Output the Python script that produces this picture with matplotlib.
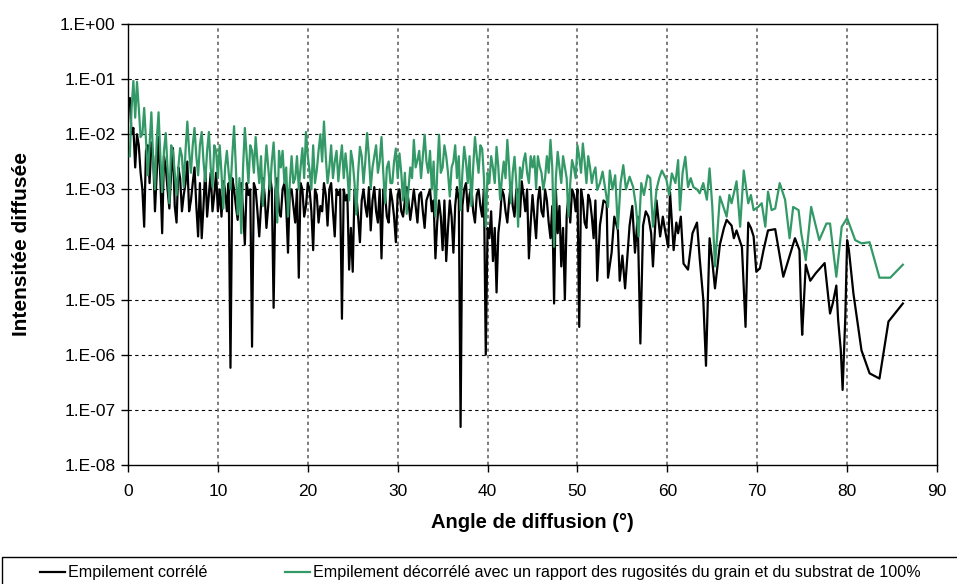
import numpy as np
import matplotlib
matplotlib.use("Agg")
import matplotlib.pyplot as plt
from matplotlib.ticker import FixedLocator, FuncFormatter, NullLocator

plt.rcParams['font.family'] = ['Liberation Sans', 'DejaVu Sans']

# angles read every 0.2 deg up to 52.2 deg (two interleaved grids), then point by point
dense_angle = np.round(np.arange(0.2, 52.3, 0.4), 1)
mid_angle = np.round(np.arange(0.4, 52.05, 0.4), 1)

black_dense = [
    4.5e-2, 1.3e-2, 1.0e-2, 2.0e-3, 2.1e-4, 6.3e-3, 7.1e-3, 4.0e-4, 8.9e-3, 1.6e-4,
    2.5e-3, 4.5e-4, 5.6e-3, 2.5e-4, 1.6e-3, 7.9e-4, 3.2e-3, 6.3e-4, 2.5e-3, 1.4e-4,
    1.3e-4, 2.5e-3, 7.9e-4, 4.0e-4, 2.0e-3,
    1.0e-3, 1.4e-3, 4.0e-4, 5.8e-7, 1.0e-3, 2.8e-4, 1.3e-3, 1.0e-4, 7.9e-4, 1.4e-6,
    1.0e-3, 1.4e-4, 1.6e-3, 2.0e-4, 1.8e-3, 7.1e-6, 1.6e-3, 3.2e-4, 1.3e-3, 7.1e-5,
    1.0e-3, 2.5e-4, 2.5e-5, 1.0e-3, 5.0e-4,
    1.0e-3, 7.9e-5, 7.9e-4, 5.0e-4, 1.3e-3, 2.2e-4, 1.3e-3, 1.4e-4, 7.9e-4, 4.5e-6,
    6.3e-4, 3.5e-5, 3.2e-5, 7.9e-4, 1.1e-4, 1.0e-3, 3.2e-4, 1.8e-4, 1.1e-3, 2.5e-4,
    5.6e-5, 7.9e-4, 2.5e-4, 6.3e-4, 1.1e-4,
    1.0e-3, 3.2e-4, 1.1e-3, 2.8e-4, 1.0e-3, 2.5e-4, 8.9e-4, 2.0e-4, 7.9e-4, 4.0e-4,
    5.6e-5, 6.3e-4, 7.9e-5, 5.0e-5, 6.3e-4, 7.1e-5, 1.1e-3, 4.9e-8, 1.0e-3, 4.0e-4,
    1.1e-3, 2.5e-4, 1.0e-3, 3.2e-4, 1.0e-6,
    1.3e-4, 5.0e-5, 1.35e-5, 3.2e-4, 7.9e-4, 2.5e-4, 1.3e-3, 3.2e-4, 1.0e-3, 1.4e-3,
    4.0e-4, 5.6e-5, 7.9e-4, 1.3e-4, 1.1e-3, 3.2e-4, 6.3e-4, 1.3e-4, 8.5e-6, 1.6e-4,
    4.0e-5, 1.0e-5, 7.9e-4, 1.0e-3, 4.0e-4,
    3.2e-6, 6.3e-4, 2.0e-4, 6.3e-4, 1.3e-4, 2.2e-5,
]
black_mid = [
    1.0e-2, 2.5e-3, 6.3e-3, 1.0e-3, 5.0e-3, 1.3e-3, 4.0e-3, 2.0e-3, 1.6e-3, 4.0e-3,
    1.0e-3, 2.0e-3, 5.0e-4, 2.5e-3, 4.0e-4, 1.3e-3, 4.0e-4, 1.3e-3, 5.0e-4, 1.3e-3,
    5.0e-4, 3.2e-4, 2.0e-3, 8.0e-4, 4.0e-4,
    3.2e-4, 1.0e-3, 1.3e-3, 1.6e-3, 5.0e-4, 1.0e-3, 4.0e-4, 1.3e-3, 1.0e-3, 1.3e-3,
    4.0e-4, 5.0e-4, 8.0e-4, 5.0e-4, 1.0e-3, 1.0e-3, 4.0e-4, 1.0e-3, 5.0e-4, 1.0e-3,
    5.0e-4, 1.0e-3, 1.3e-3, 3.2e-4, 1.3e-3,
    4.0e-4, 1.0e-3, 2.5e-4, 4.0e-4, 8.0e-4, 1.0e-3, 4.0e-4, 1.0e-3, 1.0e-3, 1.0e-3,
    8.0e-4, 2.0e-4, 1.0e-3, 3.2e-4, 6.3e-4, 5.0e-4, 1.1e-3, 6.3e-4, 4.0e-4, 1.0e-3,
    1.0e-3, 3.2e-4, 1.0e-3, 3.2e-4, 8.0e-4,
    4.0e-4, 6.3e-4, 6.3e-4, 5.0e-4, 5.0e-4, 8.0e-4, 4.0e-4, 6.3e-4, 1.0e-3, 6.3e-4,
    2.5e-4, 3.2e-4, 6.3e-4, 2.0e-4, 3.2e-4, 5.0e-4, 6.3e-4, 5.0e-4, 1.3e-3, 8.0e-4,
    4.0e-4, 8.0e-4, 5.0e-4, 1.0e-3, 2.0e-4,
    4.0e-4, 2.0e-4, 1.6e-4, 1.0e-3, 4.0e-4, 6.3e-4, 5.0e-4, 1.0e-3, 3.2e-4, 8.0e-4,
    1.0e-3, 2.5e-4, 3.2e-4, 6.3e-4, 4.0e-4, 1.0e-3, 2.5e-4, 5.0e-4, 1.0e-3, 5.0e-4,
    2.0e-4, 3.2e-4, 2.5e-4, 8.0e-4, 1.0e-3,
    1.0e-3, 2.5e-4, 8.0e-4, 3.2e-4, 6.3e-4,
]

black_tail_angle = [
    52.5, 52.9, 53.25, 53.4, 53.8, 54.1, 54.5, 54.7, 55.0, 55.3, 55.8, 56.1, 56.4, 56.7,
    57.0, 57.3, 57.6, 57.9, 58.2, 58.4, 58.8, 59.2, 59.5, 59.7, 60.1, 60.3, 60.7, 61.0,
    61.2, 61.5, 61.8, 62.3, 62.8, 63.3, 63.6, 64.0, 64.3, 64.7, 65.0, 65.3, 65.85, 66.3,
    66.6, 67.15, 67.4, 67.7, 68.3, 68.7, 69.0, 69.3, 69.6, 69.9, 70.3, 70.7, 71.2, 72.0,
    72.9, 74.2, 74.7, 74.9, 75.0, 75.4, 75.9, 76.5, 77.5, 78.1, 78.4, 78.8, 79.0, 79.3,
    79.5, 79.8, 80.0, 80.2, 80.7, 81.6, 82.5, 83.6, 84.6, 86.2,
]
black_tail = [
    2.2e-4, 6.3e-4, 5.6e-4, 2.5e-5, 7.1e-5, 3.2e-4, 1.8e-4, 2.2e-5, 6.3e-5, 1.6e-5,
    2.2e-4, 5.0e-4, 7.1e-5, 3.2e-4, 1.6e-6, 2.2e-4, 4.0e-4, 3.2e-4, 1.6e-4, 4.0e-5,
    6.3e-4, 1.4e-4, 3.2e-4, 2.0e-4, 8.9e-5, 8.9e-4, 7.9e-5, 2.5e-4, 1.6e-4, 3.2e-4,
    4.5e-5, 3.5e-5, 1.6e-4, 2.5e-4, 5.6e-5, 1.0e-5, 6.3e-7, 1.3e-4, 5.0e-5, 1.6e-5,
    1.0e-4, 2.0e-4, 2.8e-4, 2.2e-4, 1.3e-4, 1.8e-4, 8.9e-5, 3.2e-6, 2.5e-4, 2.0e-4,
    1.4e-4, 3.2e-5, 3.7e-5, 7.9e-5, 1.8e-4, 1.9e-4, 2.6e-5, 1.3e-4, 7.9e-5, 5.6e-6,
    2.3e-6, 4.3e-5, 2.2e-5, 3.0e-5, 4.6e-5, 5.6e-6, 8.5e-6, 1.8e-5, 4.3e-6, 1.2e-6,
    2.3e-7, 4.9e-6, 1.2e-4, 7.9e-5, 1.3e-5, 1.2e-6, 4.6e-7, 3.7e-7, 4.0e-6, 8.5e-6,
]

green_dense = [
    4.0e-3, 9.3e-2, 8.9e-2, 8.9e-3, 3.0e-2, 1.8e-3, 2.5e-2, 1.0e-3, 2.5e-2, 8.9e-4,
    1.05e-2, 5.6e-4, 5.0e-3, 7.9e-4, 5.6e-3, 1.1e-3, 1.7e-2, 2.0e-3, 1.3e-2, 1.8e-3,
    1.1e-2, 1.4e-3, 1.1e-2, 1.1e-3, 5.0e-3,
    6.3e-3, 4.5e-4, 5.0e-3, 1.0e-3, 1.4e-2, 3.5e-4, 1.6e-4, 1.3e-2, 1.3e-3, 5.0e-3,
    8.9e-3, 1.3e-3, 5.0e-4, 6.3e-3, 1.0e-3, 7.1e-3, 2.5e-4, 2.5e-3, 1.3e-3, 3.2e-4,
    4.0e-3, 1.6e-3, 1.0e-3, 5.6e-3, 1.1e-2,
    2.2e-3, 6.3e-3, 2.2e-3, 1.0e-2, 1.7e-2, 1.3e-3, 6.3e-3, 3.2e-3, 1.4e-3, 6.3e-3,
    4.5e-3, 6.3e-4, 3.2e-3, 3.5e-4, 5.9e-3, 1.3e-3, 1.05e-2, 1.05e-3, 4.0e-3, 2.0e-3,
    8.9e-3, 5.6e-4, 3.2e-3, 1.3e-3, 5.5e-3,
    4.5e-3, 6.3e-4, 3.6e-4, 2.5e-3, 7.9e-3, 3.4e-3, 1.6e-3, 9.8e-3, 2.0e-3, 1.0e-3,
    3.2e-4, 9.8e-3, 2.5e-3, 4.0e-3, 7.4e-4, 3.2e-3, 1.6e-3, 4.2e-4, 5.9e-3, 1.3e-3,
    5.0e-4, 8.9e-3, 2.0e-3, 5.5e-3, 2.1e-4,
    1.3e-3, 2.5e-3, 5.9e-3, 6.5e-4, 3.2e-3, 7.9e-3, 5.6e-4, 3.9e-3, 2.1e-4, 1.6e-3,
    4.5e-3, 1.3e-3, 2.5e-3, 1.05e-3, 2.6e-3, 1.0e-3, 4.0e-3, 7.9e-3, 9.1e-5, 4.8e-3,
    1.3e-3, 2.5e-3, 3.2e-4, 3.4e-3, 1.6e-3,
    3.9e-3, 6.8e-3, 1.3e-3, 2.5e-3, 2.0e-3, 9.8e-4,
]
green_mid = [
    3.0e-2, 2.0e-2, 3.0e-2, 1.0e-2, 8.0e-3, 6.3e-3, 3.2e-3, 8.0e-3, 4.0e-3, 5.0e-3,
    2.5e-3, 6.3e-3, 2.0e-3, 2.5e-3, 4.0e-3, 5.0e-3, 5.0e-3, 6.3e-3, 4.0e-3, 6.3e-3,
    3.2e-3, 5.0e-3, 2.5e-3, 6.3e-3, 1.6e-3,
    2.0e-3, 2.5e-3, 2.0e-3, 4.0e-3, 2.5e-3, 1.6e-3, 2.5e-3, 4.0e-3, 6.3e-3, 2.0e-3,
    3.2e-3, 4.0e-3, 2.0e-3, 2.5e-3, 3.2e-3, 1.6e-3, 5.0e-3, 5.0e-3, 2.5e-3, 1.3e-3,
    1.3e-3, 4.0e-3, 2.5e-3, 1.6e-3, 4.0e-3,
    1.0e-3, 1.3e-3, 5.0e-3, 3.2e-3, 4.0e-3, 2.5e-3, 1.6e-3, 5.0e-3, 3.2e-3, 1.6e-3,
    2.0e-3, 5.0e-3, 1.3e-3, 2.0e-3, 4.0e-3, 3.2e-3, 4.0e-3, 2.5e-3, 6.3e-3, 3.2e-3,
    2.0e-3, 2.5e-3, 1.3e-3, 3.2e-3, 1.6e-3,
    2.0e-3, 2.0e-3, 1.0e-3, 1.6e-3, 2.5e-3, 5.0e-3, 4.0e-3, 3.2e-3, 5.0e-3, 3.2e-3,
    2.0e-3, 2.0e-3, 6.3e-3, 2.0e-3, 2.5e-3, 6.3e-3, 4.0e-3, 2.0e-3, 3.2e-3, 4.0e-3,
    2.5e-3, 4.0e-3, 6.3e-3, 1.6e-3, 2.0e-3,
    4.0e-3, 1.3e-3, 2.5e-3, 1.6e-3, 1.6e-3, 2.5e-3, 2.0e-3, 1.3e-3, 2.5e-3, 3.2e-3,
    2.0e-3, 4.0e-3, 4.0e-3, 4.0e-3, 2.0e-3, 1.6e-3, 2.0e-3, 2.5e-3, 1.6e-3, 2.5e-3,
    4.0e-3, 1.6e-3, 1.3e-3, 2.5e-3, 6.3e-3,
    2.0e-3, 3.2e-3, 4.0e-3, 1.3e-3, 2.5e-3,
]

green_tail_angle = [
    52.5, 52.8, 53.1, 53.4, 53.6, 53.9, 54.2, 54.5, 54.8, 55.1, 55.4, 55.8, 56.2, 56.5,
    56.8, 57.1, 57.4, 57.8, 58.1, 58.4, 58.8, 59.1, 59.4, 59.9, 60.2, 60.5, 60.9, 61.2,
    61.4, 61.7, 62.0, 62.3, 62.6, 62.9, 63.3, 63.6, 64.0, 64.4, 64.7, 65.0, 65.3, 65.85,
    66.2, 66.6, 66.9, 67.15, 67.7, 68.1, 68.5, 69.0, 69.3, 69.6, 70.1, 70.5, 70.9, 71.2,
    71.6, 72.0, 72.5, 73.1, 73.6, 74.0, 74.6, 74.9, 75.4, 76.0, 76.9, 77.7, 78.1, 78.8,
    79.4, 80.0, 80.9, 81.6, 82.5, 83.6, 84.8, 86.2,
]
green_tail = [
    1.3e-3, 2.1e-3, 1.0e-3, 4.8e-4, 2.2e-3, 1.0e-3, 1.8e-3, 1.95e-4, 1.3e-3, 2.75e-3,
    1.0e-3, 1.7e-3, 1.1e-3, 5.0e-4, 1.4e-4, 1.3e-3, 7.9e-4, 1.8e-3, 1.6e-3, 2.1e-4,
    1.0e-3, 1.6e-3, 2.2e-3, 1.5e-3, 7.9e-4, 1.95e-3, 1.3e-3, 3.4e-3, 4.2e-4, 2.0e-3,
    3.9e-3, 1.1e-3, 1.6e-3, 1.1e-3, 1.0e-3, 8.5e-4, 1.3e-3, 6.5e-4, 2.4e-3, 5.0e-4,
    4.0e-5, 7.4e-4, 5.0e-4, 3.2e-4, 7.9e-4, 5.6e-4, 1.4e-3, 2.1e-4, 2.2e-3, 5.6e-4,
    7.9e-4, 4.2e-4, 4.8e-4, 5.6e-4, 2.1e-4, 9.1e-4, 4.2e-4, 4.5e-4, 1.3e-3, 6.5e-4,
    1.3e-4, 4.8e-4, 4.2e-4, 1.6e-4, 5.2e-5, 4.8e-4, 1.2e-4, 2.4e-4, 2.4e-4, 2.6e-5,
    2.1e-4, 3.0e-4, 1.2e-4, 1.05e-4, 1.1e-4, 2.5e-5, 2.5e-5, 4.3e-5,
]

labels = ["Empilement corrélé",
          "Empilement décorrélé avec un rapport des rugosités du grain et du substrat de 100%"]
colors = ["#000000", "#339966"]


def join(parts_x, parts_y):
    x = np.concatenate(parts_x)
    y = np.concatenate(parts_y)
    order = np.argsort(x, kind='stable')
    return x[order], y[order]


black_angle, black = join([dense_angle, mid_angle, black_tail_angle],
                          [black_dense, black_mid, black_tail])
green_angle, green = join([dense_angle, mid_angle, green_tail_angle],
                          [green_dense, green_mid, green_tail])

fig = plt.figure(figsize=(9.57, 5.84), dpi=100)
ax = fig.add_axes([128 / 957, 1 - 465 / 584, (937 - 128) / 957, (465 - 24) / 584])

ax.plot(black_angle, black, color=colors[0], lw=1.6, label=labels[0], zorder=3)
ax.plot(green_angle, green, color=colors[1], lw=1.6, label=labels[1], zorder=4)

ax.set_yscale('log')
ax.set_ylim(1e-8, 1)
ax.set_xlim(0, 90)
ax.xaxis.set_major_locator(FixedLocator(np.arange(0, 91, 10)))
ax.yaxis.set_major_locator(FixedLocator([10.0 ** k for k in range(-8, 1)]))
ax.yaxis.set_minor_locator(NullLocator())
ax.yaxis.set_major_formatter(FuncFormatter(lambda v, p: "1.E%+03d" % int(round(np.log10(v)))))

for k in range(-7, 0):
    ax.axhline(10.0 ** k, color='black', lw=0.8, ls=(0, (3, 3)), zorder=1)
for v in range(10, 90, 10):
    ax.axvline(v, color='#666666', lw=1.2, ls=(0, (2, 2)), zorder=1)

for s in ax.spines.values():
    s.set_linewidth(1.0)
    s.set_color('black')
ax.tick_params(axis='both', direction='out', length=5, width=1, labelsize=12.5, pad=4)
ax.tick_params(axis='x', pad=9)

ax.set_xlabel("Angle de diffusion (°)", fontsize=14.5, fontweight='bold', labelpad=10)
ax.set_ylabel("Intensitée diffusée", fontsize=15, fontweight='bold', labelpad=21)

fig.add_artist(plt.Rectangle((0.002, -0.1), 1.1, 0.1 + 1 - 557 / 584,
                             transform=fig.transFigure, fill=False, lw=1.0, ec='black'))
fig.legend(loc='center left', bbox_to_anchor=(40 / 957, 1 - 573 / 584), ncol=2,
           frameon=False, fontsize=11.6, handlelength=1.55, handletextpad=0.2,
           columnspacing=4.8, borderaxespad=0, borderpad=0)

fig.savefig("out.png", dpi=100)
